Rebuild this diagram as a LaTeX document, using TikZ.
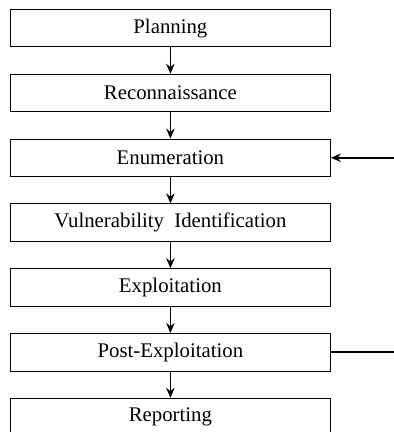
\documentclass[tikz,border=0pt]{standalone}
\usepackage{fontspec}
\setmainfont{Liberation Serif}
\usepackage{tikz}
\usetikzlibrary{arrows.meta,positioning}

\begin{document}
\begin{tikzpicture}[node distance=13.25pt,>={Stealth[length=5pt,width=4.2pt]},
  phase/.style={draw,minimum width=160pt,minimum height=18.75pt,inner sep=0pt,
    font=\fontsize{10.4}{12}\selectfont}]
  \useasboundingbox (0,0) rectangle (196.5pt,-216pt);
  \node[phase,anchor=north west] (plan) at (5pt,-4.5pt) {Planning};
  \node[phase,below=of plan] (recon) {Reconnaissance};
  \node[phase,below=of recon] (enum) {Enumeration};
  \node[phase,below=of enum] (vuln) {Vulnerability\ \ Identification};
  \node[phase,below=of vuln] (exploit) {Exploitation};
  \node[phase,below=of exploit] (post) {Post-Exploitation};
  \node[phase,below=of post] (report) {Reporting};
  % main chain
  \foreach \a/\b in {plan/recon,recon/enum,enum/vuln,vuln/exploit,exploit/post,post/report}
    \draw[->,thick] (\a) -- (\b);
  % side lines
  \coordinate[right=31.5pt of enum.east] (enumin);
  \coordinate[right=31.5pt of post.east] (postout);
  \draw[->,thick] (enumin) -- (enum.east);
  \draw[thick] (post.east) -- (postout);
\end{tikzpicture}
\end{document}
